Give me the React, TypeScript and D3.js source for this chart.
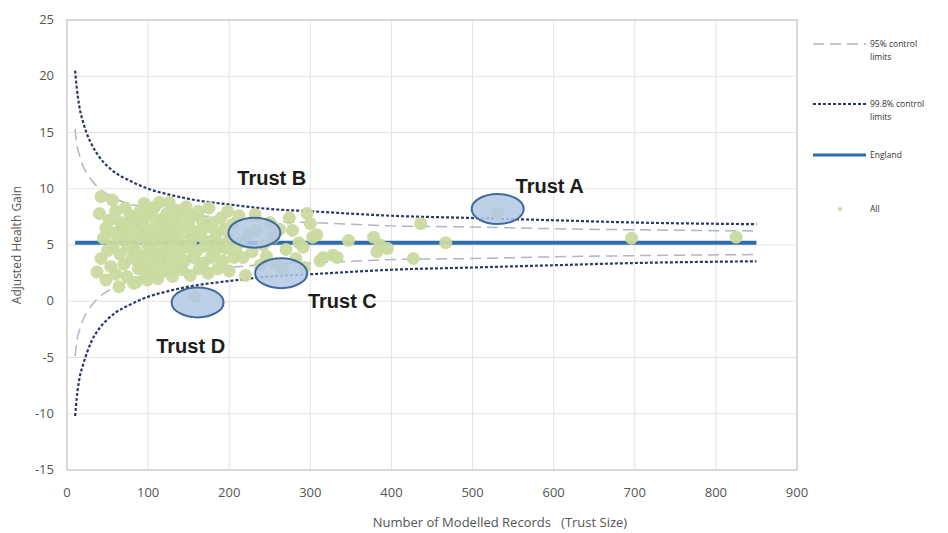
import { useEffect, useRef } from "react";
import * as d3 from "d3";

// control limit curves at sample trust sizes
const limitN = [10, 12, 15, 20, 25, 30, 40, 50, 60, 75, 100, 125, 150, 200, 250, 300, 400, 500, 600, 700, 850];
const upper998 = [20.5, 19.0, 17.4, 15.9, 14.8, 14.0, 12.8, 12.0, 11.4, 10.8, 10.0, 9.5, 9.1, 8.6, 8.2, 8.0, 7.6, 7.4, 7.2, 7.0, 6.85];
const lower998 = [-10.2, -8.6, -7.0, -5.6, -4.5, -3.6, -2.4, -1.6, -1.0, -0.4, 0.4, 0.9, 1.3, 1.8, 2.2, 2.4, 2.8, 3.0, 3.2, 3.4, 3.55];
const upper95 = [15.3, 14.0, 13.1, 12.0, 11.3, 10.8, 10.0, 9.5, 9.1, 8.7, 8.3, 7.9, 7.7, 7.4, 7.1, 7.0, 6.7, 6.6, 6.45, 6.35, 6.25];
const lower95 = [-4.9, -3.6, -2.7, -1.6, -0.9, -0.4, 0.4, 0.9, 1.3, 1.7, 2.1, 2.5, 2.7, 3.0, 3.3, 3.4, 3.7, 3.8, 3.95, 4.05, 4.15];

const englandN = [10, 850];
const englandValue = 5.2;

// trusts: [records, adjusted health gain]
const trusts: [number, number][] = [
  [37, 2.6], [40, 7.8], [42, 9.3], [42, 3.8], [45, 5.6], [48, 6.5], [48, 1.9], [50, 4.5], [52, 7.2], [54, 3.1],
  [56, 9.0], [57, 5.0], [58, 6.1], [60, 2.4], [60, 8.0],
  [64, 1.3], [65, 4.2], [66, 7.0], [68, 5.5], [70, 3.3], [70, 6.4], [72, 8.3], [74, 2.2], [75, 4.8], [76, 5.9],
  [78, 7.6], [80, 3.8], [80, 6.8], [82, 1.6], [83, 5.2], [85, 1.7], [85, 4.4], [86, 7.3], [88, 2.9], [88, 6.1],
  [90, 8.0], [90, 3.5], [92, 5.7], [93, 4.0], [95, 8.7], [95, 6.6], [96, 2.4], [97, 7.5], [99, 1.9], [99, 5.0],
  [100, 3.2], [102, 6.2], [103, 4.5], [104, 7.9], [105, 2.6], [106, 5.6], [108, 8.4], [108, 3.9], [110, 6.9], [111, 4.9],
  [112, 2.0], [114, 8.8], [114, 5.9], [115, 3.4], [117, 7.3], [118, 4.3], [120, 6.4], [120, 2.7], [122, 5.2], [123, 7.8],
  [125, 3.7], [126, 8.8], [126, 6.0], [128, 4.6], [130, 2.2], [130, 7.0], [132, 5.5], [134, 3.1], [135, 8.1], [136, 6.5],
  [138, 4.1], [140, 5.0], [140, 7.5], [142, 2.8], [144, 6.1], [145, 3.6], [147, 8.4], [148, 4.8],
  [150, 6.9], [152, 2.3], [153, 5.4], [155, 7.6], [156, 3.9], [158, 6.2], [160, 4.5], [162, 8.0], [157, 0.4], [163, 2.9],
  [165, 5.8], [167, 7.1], [168, 3.4], [170, 4.9], [172, 6.6], [174, 2.5], [175, 8.3], [176, 5.3], [178, 3.9], [180, 7.0],
  [182, 4.4], [184, 6.0], [186, 2.9], [188, 5.1], [190, 7.4], [192, 3.6], [194, 6.4], [196, 4.7], [198, 8.0], [200, 5.5],
  [200, 2.7],
  [204, 6.8], [206, 3.9], [208, 4.6], [212, 7.6], [215, 5.3], [217, 3.9], [220, 2.3], [224, 6.0], [228, 4.4], [232, 7.7],
  [234, 6.3], [238, 3.2], [242, 5.0], [246, 4.0], [250, 7.0], [255, 5.7], [258, 3.3], [262, 6.4], [266, 2.9], [270, 4.6],
  [274, 7.4], [278, 6.3], [282, 3.8], [286, 5.2], [291, 4.8], [293, 3.0], [296, 7.8], [300, 6.9], [303, 5.7], [308, 5.9],
  [312, 3.6], [316, 3.9], [328, 4.1], [333, 3.9], [347, 5.4], [378, 5.7], [382, 4.4], [386, 5.0], [395, 4.7], [427, 3.8],
  [436, 6.9], [467, 5.2], [531, 7.8], [696, 5.6], [825, 5.7],
];

const highlighted = ["Trust A", "Trust B", "Trust C", "Trust D"];
const highlightN = [531, 231, 264, 161];
const highlightValue = [8.2, 6.1, 2.5, -0.1];
const labelN = [553, 210, 297, 110];
const labelValue = [9.6, 10.3, -0.6, -4.6];

const xTicks = [0, 100, 200, 300, 400, 500, 600, 700, 800, 900];
const yTicks = [-15, -10, -5, 0, 5, 10, 15, 20, 25];

const FunnelPlot = () => {
  const chartRef = useRef(null);

  useEffect(() => {
    if (!chartRef.current) return;
    const svg = d3.select(chartRef.current);
    svg.selectAll("*").remove();

    const width = 948;
    const height = 533;
    const font = "'Open Sans', 'Liberation Sans', sans-serif";

    const x = d3.scaleLinear().domain([0, 900]).range([67, 797]);
    const y = d3.scaleLinear().domain([-15, 25]).range([470, 20]);

    svg.attr("viewBox", [0, 0, width, height] as any);
    svg.append("rect").attr("width", width).attr("height", height).attr("fill", "#fff");

    // grid
    const grid = svg.append("g").attr("stroke", "#e3e3e3").attr("stroke-width", 1);
    xTicks.forEach((t) => {
      grid.append("line").attr("x1", x(t)).attr("x2", x(t)).attr("y1", y(25)).attr("y2", y(-15));
    });
    yTicks.forEach((t) => {
      grid.append("line").attr("x1", x(0)).attr("x2", x(900)).attr("y1", y(t)).attr("y2", y(t));
    });
    svg
      .append("rect")
      .attr("x", x(0))
      .attr("y", y(25))
      .attr("width", x(900) - x(0))
      .attr("height", y(-15) - y(25))
      .attr("fill", "none")
      .attr("stroke", "#cfcfcf")
      .attr("stroke-width", 1.5);

    // axes labels
    svg
      .append("g")
      .selectAll("text")
      .data(xTicks)
      .join("text")
      .attr("x", (d) => x(d))
      .attr("y", 497)
      .attr("text-anchor", "middle")
      .attr("font-family", font)
      .attr("font-size", 13)
      .attr("fill", "#555")
      .text((d) => d);
    svg
      .append("g")
      .selectAll("text")
      .data(yTicks)
      .join("text")
      .attr("x", 54)
      .attr("y", (d) => y(d) + 4)
      .attr("text-anchor", "end")
      .attr("font-family", font)
      .attr("font-size", 13)
      .attr("fill", "#555")
      .text((d) => d);
    svg
      .append("text")
      .attr("transform", `translate(21,${y(5)}) rotate(-90)`)
      .attr("text-anchor", "middle")
      .attr("font-family", font)
      .attr("font-size", 12)
      .attr("fill", "#555")
      .text("Adjusted Health Gain");
    svg
      .append("text")
      .attr("x", 500)
      .attr("y", 527)
      .attr("text-anchor", "middle")
      .attr("font-family", font)
      .attr("font-size", 13)
      .attr("fill", "#555")
      .attr("xml:space", "preserve")
      .text("Number of Modelled Records   (Trust Size)");

    const line = d3
      .line<number>()
      .curve(d3.curveMonotoneX)
      .x((_, i) => x(limitN[i]))
      .y((d) => y(d));

    [upper95, lower95].forEach((s) => {
      svg
        .append("path")
        .attr("d", line(s))
        .attr("fill", "none")
        .attr("stroke", "#b0b4c6")
        .attr("stroke-width", 1.5)
        .attr("stroke-dasharray", "11,6");
    });
    [upper998, lower998].forEach((s) => {
      svg
        .append("path")
        .attr("d", line(s))
        .attr("fill", "none")
        .attr("stroke", "#2c3866")
        .attr("stroke-width", 2.2)
        .attr("stroke-dasharray", "3,2");
    });

    svg
      .append("line")
      .attr("x1", x(englandN[0]))
      .attr("x2", x(englandN[1]))
      .attr("y1", y(englandValue))
      .attr("y2", y(englandValue))
      .attr("stroke", "#2f6cab")
      .attr("stroke-width", 4);

    svg
      .append("g")
      .selectAll("circle")
      .data(trusts)
      .join("circle")
      .attr("cx", (d) => x(d[0]))
      .attr("cy", (d) => y(d[1]))
      .attr("r", 6.5)
      .attr("fill", "#c9da9f")
      .attr("opacity", 0.95);

    // highlighted trusts
    highlighted.forEach((name, i) => {
      svg
        .append("ellipse")
        .attr("cx", x(highlightN[i]))
        .attr("cy", y(highlightValue[i]))
        .attr("rx", 26)
        .attr("ry", 15)
        .attr("fill", "#b3c8e4")
        .attr("fill-opacity", 0.85)
        .attr("stroke", "#41699a")
        .attr("stroke-width", 2);
      svg
        .append("text")
        .attr("x", x(labelN[i]))
        .attr("y", y(labelValue[i]))
        .attr("font-family", "'Liberation Sans', Arial, sans-serif")
        .attr("font-weight", "bold")
        .attr("font-size", 20)
        .attr("fill", "#1c1c1c")
        .text(name);
    });

    // legend
    const lg = svg.append("g").attr("font-family", font).attr("font-size", 8.5).attr("fill", "#333");
    lg.append("line").attr("x1", 813).attr("x2", 866).attr("y1", 44).attr("y2", 44)
      .attr("stroke", "#b0b4c6").attr("stroke-width", 1.5).attr("stroke-dasharray", "11,6");
    lg.append("text").attr("x", 870).attr("y", 47).text("95% control");
    lg.append("text").attr("x", 870).attr("y", 60).text("limits");
    lg.append("line").attr("x1", 813).attr("x2", 866).attr("y1", 104).attr("y2", 104)
      .attr("stroke", "#2c3866").attr("stroke-width", 2).attr("stroke-dasharray", "3,2");
    lg.append("text").attr("x", 870).attr("y", 107).text("99.8% control");
    lg.append("text").attr("x", 870).attr("y", 120).text("limits");
    lg.append("line").attr("x1", 813).attr("x2", 866).attr("y1", 155).attr("y2", 155)
      .attr("stroke", "#2f6cab").attr("stroke-width", 3);
    lg.append("text").attr("x", 870).attr("y", 158).text("England");
    lg.append("circle").attr("cx", 840).attr("cy", 209).attr("r", 2).attr("fill", "#c9da9f");
    lg.append("text").attr("x", 870).attr("y", 212).text("All");
  }, []);

  return (
    <svg
      ref={chartRef}
      width={948}
      height={533}
      style={{ position: "absolute", left: 0, top: 0, display: "block" }}
    ></svg>
  );
};

export default function App() {
  return <FunnelPlot />;
}
